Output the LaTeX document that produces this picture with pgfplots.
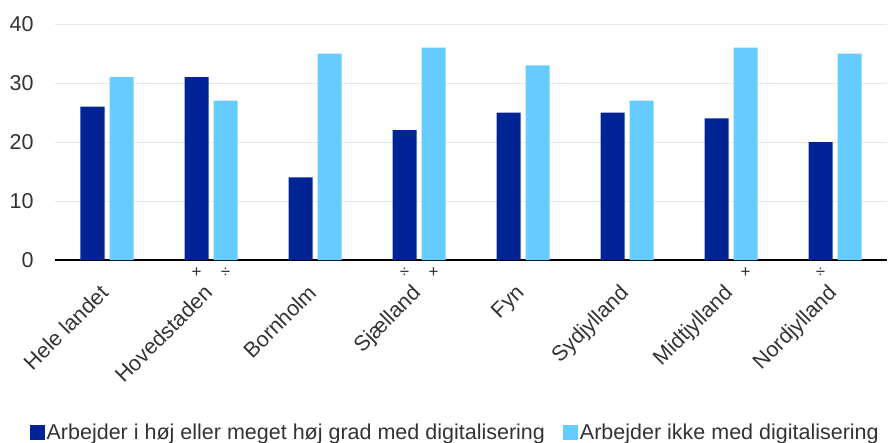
\documentclass[border=0pt]{standalone}
\usepackage{pgfplots}
\pgfplotsset{compat=1.18}
\usepackage{fontspec}
\setmainfont{Liberation Sans}
\definecolor{darkb}{HTML}{002395}
\definecolor{lightb}{HTML}{66CCFF}
\definecolor{gridc}{HTML}{E6E6E6}
\definecolor{txt}{HTML}{333333}
\begin{document}
\begin{tikzpicture}
\begin{axis}[
  scale only axis, width=832pt, height=236pt,
  xmin=-0.5, xmax=7.5, ymin=0, ymax=40,
  axis x line*=bottom, axis y line*=left,
  y axis line style={draw=none},
  x axis line style={black, line width=1.2pt},
  ytick={0,10,20,30,40},
  ymajorgrids, grid style={gridc, line width=0.8pt},
  major tick length=0pt,
  xtick={0,...,7},
  xticklabels={Hele landet, Hovedstaden, Bornholm, Sjælland, Fyn, Sydjylland, Midtjylland, Nordjylland},
  tick label style={font=\fontsize{21.5}{25}\selectfont, text=txt},
  xticklabel style={rotate=45, anchor=north east, xshift=-19pt, yshift=-7pt},
  yticklabel style={xshift=-18pt},
  /pgf/number format/assume math mode=true,
  ybar=5pt, bar width=24pt,
  clip=false,
  legend style={at={(0.481,0)}, anchor=center, yshift=-172pt, draw=none, fill=none,
    legend columns=2, font=\fontsize{21.5}{25}\selectfont, text=txt,
    /tikz/every even column/.append style={column sep=16pt}},
  legend image code/.code={\fill[#1] (0pt,-7.5pt) rectangle (15pt,7.5pt);},
]
\addplot[fill=darkb, draw=none] coordinates {(0,26) (1,31) (2,14) (3,22) (4,25) (5,25) (6,24) (7,20)};
\addplot[fill=lightb, draw=none] coordinates {(0,31) (1,27) (2,35) (3,36) (4,33) (5,27) (6,36) (7,35)};
\legend{Arbejder i høj eller meget høj grad med digitalisering, Arbejder ikke med digitalisering}
\node[font=\fontsize{17}{20}\selectfont, text=txt, xshift=-14.5pt, yshift=-13pt] at (axis cs:1,0) {+};
\node[font=\fontsize{17}{20}\selectfont, text=txt, xshift=14.5pt, yshift=-13pt] at (axis cs:1,0) {÷};
\node[font=\fontsize{17}{20}\selectfont, text=txt, xshift=-14.5pt, yshift=-13pt] at (axis cs:3,0) {÷};
\node[font=\fontsize{17}{20}\selectfont, text=txt, xshift=14.5pt, yshift=-13pt] at (axis cs:3,0) {+};
\node[font=\fontsize{17}{20}\selectfont, text=txt, xshift=14.5pt, yshift=-13pt] at (axis cs:6,0) {+};
\node[font=\fontsize{17}{20}\selectfont, text=txt, xshift=-14.5pt, yshift=-13pt] at (axis cs:7,0) {÷};
\end{axis}
\pgfresetboundingbox
\path (-55pt,-182pt) rectangle (833pt,260pt);
\end{tikzpicture}
\end{document}
